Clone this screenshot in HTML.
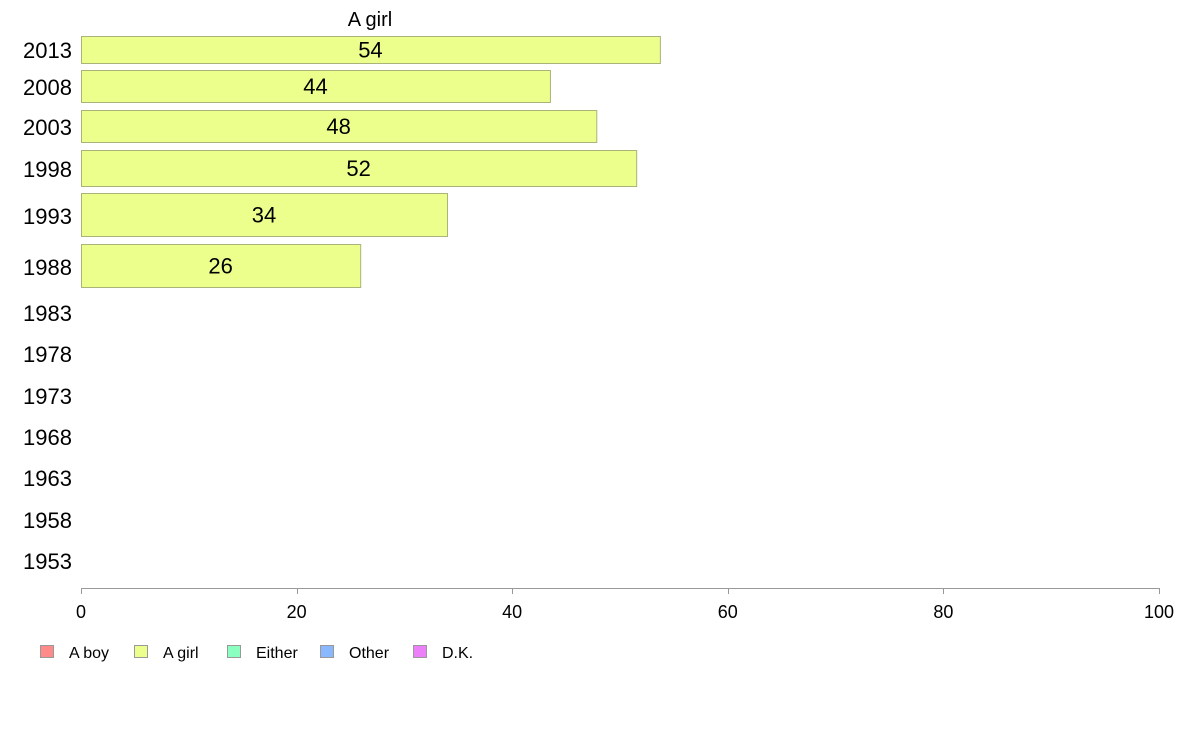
<!DOCTYPE html>
<html><head><meta charset="utf-8"><style>
html,body{margin:0;padding:0;background:#fff;}
svg{display:block;font-family:"Liberation Sans",Arial,sans-serif;}
</style></head><body>
<svg id="chart" width="1188" height="736" viewBox="0 0 1188 736" xmlns="http://www.w3.org/2000/svg">
<text x="370" y="26" font-size="20" text-anchor="middle">A girl</text>
<g id="yaxis"></g>
<g id="bars"></g>
<g id="xaxis"></g>
<g id="legend"></g>
</svg>
<script>
const categories = ["2013","2008","2003","1998","1993","1988","1983","1978","1973","1968","1963","1958","1953"];
const girlValues = [53.7, 43.5, 47.8, 51.5, 33.95, 25.9, null, null, null, null, null, null, null];
const xTicks = [0, 20, 40, 60, 80, 100];
const legendLabels = ["A boy","A girl","Either","Other","D.K."];
const legendColors = ["#ff8a8a","#ecff8c","#8affc0","#8ab8ff","#ec80f8"];

const NS = "http://www.w3.org/2000/svg";
const X0 = 81, X1 = 1159, AXIS_Y = 588;
function xScale(v){ return X0 + (v / 100) * (X1 - X0); }
// row layout (label centre y, bar top, bar bottom)
const rowLabelY = [50,87,127,169,216,267,313,354,396,437,478,520,561];
const rowBarTop = [36,70,110,150,193,244];
const rowBarBot = [63,102,142,186,236,287];
function mk(tag, attrs, parent){
  const e = document.createElementNS(NS, tag);
  for (const k in attrs) e.setAttribute(k, attrs[k]);
  parent.appendChild(e); return e;
}
const yaxis = document.getElementById('yaxis');
const bars = document.getElementById('bars');
const xaxis = document.getElementById('xaxis');
const legend = document.getElementById('legend');

categories.forEach((c, i) => {
  const t = mk('text', {x: 72, y: rowLabelY[i] + 8, 'font-size': 22, 'text-anchor': 'end'}, yaxis);
  
  
  t.textContent = c;
  const v = girlValues[i];
  if (v != null) {
    const top = rowBarTop[i], bot = rowBarBot[i];
    const r = mk('rect', {x: X0 + 0.5, y: top + 0.5, width: xScale(v) - X0, height: bot - top, fill: '#ecff8c', stroke: '#a8b478', 'stroke-width': 1}, bars);
    
    
    const lt = mk('text', {x: (X0 + xScale(v)) / 2, y: (top + bot) / 2 + 8, 'font-size': 22, 'text-anchor': 'middle'}, bars);
    
    
    lt.textContent = Math.round(v);
  }
});

const axl = mk('line', {x1: X0, x2: X1, y1: AXIS_Y + 0.5, y2: AXIS_Y + 0.5, stroke: '#999', 'stroke-width': 1}, xaxis);


xTicks.forEach(tv => {
  const x = Math.round(xScale(tv)) + 0.5;
  const tk = mk('line', {x1: x, x2: x, y1: AXIS_Y, y2: AXIS_Y + 6, stroke: '#999', 'stroke-width': 1}, xaxis);
  
  
  const tl = mk('text', {x: xScale(tv), y: AXIS_Y + 30, 'font-size': 18, 'text-anchor': 'middle'}, xaxis);
  
  
  tl.textContent = tv;
});

const legX = [40, 134, 227, 320, 413];
legendLabels.forEach((l, i) => {
  const g = mk('g', {}, legend);
  
  
  mk('rect', {x: legX[i] + 0.5, y: 645.5, width: 13, height: 12, fill: legendColors[i], stroke: '#999', 'stroke-width': 1}, g);
  const t = mk('text', {x: legX[i] + 29, y: 658, 'font-size': 16}, g);
  t.textContent = l;
});
</script>
</body></html>
